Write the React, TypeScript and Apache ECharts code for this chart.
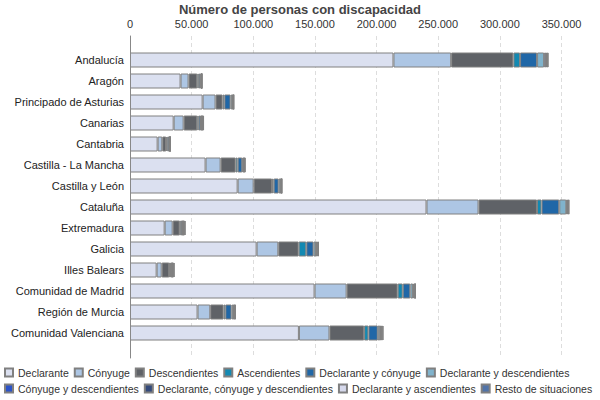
import React, { useEffect, useRef } from "react";
import * as echarts from "echarts";

const categories = [
  "Andalucía",
  "Aragón",
  "Principado de Asturias",
  "Canarias",
  "Cantabria",
  "Castilla - La Mancha",
  "Castilla y León",
  "Cataluña",
  "Extremadura",
  "Galicia",
  "Illes Balears",
  "Comunidad de Madrid",
  "Región de Murcia",
  "Comunidad Valenciana",
];

const seriesNames = [
  "Declarante",
  "Cónyuge",
  "Descendientes",
  "Ascendientes",
  "Declarante y cónyuge",
  "Declarante y descendientes",
  "Cónyuge y descendientes",
  "Declarante, cónyuge y descendientes",
  "Declarante y ascendientes",
  "Resto de situaciones",
];

const seriesColors = [
  "#dbe0f0",
  "#adc6e4",
  "#5f6267",
  "#1389b2",
  "#2067a7",
  "#80b3cc",
  "#2b53c8",
  "#344a7b",
  "#d6d9ec",
  "#5073a8",
];

const declarante = [213700, 41000, 58900, 35400, 22400, 61300, 87300, 240500, 28100, 102700, 21600, 149700, 54800, 137000];
const conyuge = [46800, 6500, 10500, 8100, 3800, 12200, 13000, 42200, 6500, 17600, 4100, 26000, 10300, 24800];
const descendientes = [50500, 7100, 5700, 11100, 3200, 12200, 14900, 47400, 5700, 16500, 6200, 41400, 10800, 28100];
const ascendientes = [5400, 1200, 1400, 1100, 800, 1600, 1300, 3700, 600, 6200, 600, 4100, 1400, 3500];
const declaranteConyuge = [13800, 1600, 5100, 1900, 1600, 3800, 4100, 14400, 1400, 5900, 1000, 6200, 5100, 7600];
const declaranteDescendientes = [5700, 400, 1400, 500, 300, 700, 1600, 5700, 500, 1900, 500, 2200, 1400, 1900];
const conyugeDescendientes = [1600, 200, 400, 300, 200, 400, 300, 600, 400, 500, 300, 1100, 500, 600];
const declaranteConyugeDescendientes = [700, 200, 400, 500, 200, 500, 300, 700, 500, 700, 500, 400, 500, 700];
const declaranteAscendientes = [500, 100, 300, 400, 200, 400, 300, 500, 600, 600, 600, 200, 400, 600];
const resto = [700, 200, 300, 700, 200, 600, 300, 600, 800, 600, 800, 200, 500, 800];

const seriesValues = [
  declarante,
  conyuge,
  descendientes,
  ascendientes,
  declaranteConyuge,
  declaranteDescendientes,
  conyugeDescendientes,
  declaranteConyugeDescendientes,
  declaranteAscendientes,
  resto,
];

const FONT = "'Liberation Sans', Arial, sans-serif";

function fmt(v: number) {
  return String(v).replace(/\B(?=(\d{3})+(?!\d))/g, ".");
}

export default function App() {
  const ref = useRef<HTMLDivElement>(null);
  useEffect(() => {
    if (!ref.current) return;
    document.body.style.margin = "0";
    const chart = echarts.init(ref.current, null, { renderer: "svg" });
    const option: any = {
      animation: false,
      backgroundColor: "#ffffff",
      textStyle: { fontFamily: FONT },
      title: {
        text: "Número de personas con discapacidad",
        left: "center",
        top: 0,
        padding: [2, 5, 0, 5],
        textStyle: { fontSize: 13, fontWeight: "bold", color: "#444444", fontFamily: FONT, lineHeight: 14 },
      },
      legend: {
        left: 4,
        right: 0,
        top: 367,
        icon: "rect",
        itemWidth: 8,
        itemHeight: 8,
        itemGap: 5,
        padding: 0,
        textStyle: { fontSize: 10.5, color: "#333333", fontFamily: FONT },
        data: seriesNames,
      },
      grid: [
        { left: 130, right: 38.5, top: 49.5, bottom: 56.5, containLabel: false },
        { left: 130, right: 38.5, top: 36, bottom: 42, containLabel: false },
      ],
      xAxis: [
        {
          gridIndex: 0,
          type: "value",
          min: 0,
          max: 350000,
          interval: 50000,
          show: false,
        },
        {
          gridIndex: 1,
          type: "value",
          position: "top",
          min: 0,
          max: 350000,
          interval: 50000,
          axisLine: { show: false },
          axisTick: { show: false },
          axisLabel: {
            fontSize: 11,
            color: "#333333",
            margin: 7,
            fontFamily: FONT,
            formatter: (v: number) => fmt(v),
          },
          splitLine: { show: true, lineStyle: { color: "#dddddd", type: [4, 3], width: 1 } },
        },
      ],
      yAxis: [
        {
          gridIndex: 0,
          type: "category",
          inverse: true,
          data: categories,
          axisLine: { show: false },
          axisTick: { show: false },
          axisLabel: { fontSize: 11, color: "#222222", margin: 6, fontFamily: FONT },
        },
        {
          gridIndex: 1,
          type: "category",
          data: [""],
          axisLine: { show: true, lineStyle: { color: "#888888", width: 1 } },
          axisTick: { show: false },
          axisLabel: { show: false },
          z: 5,
        },
      ],
      series: seriesNames.map((name, i) => ({
        name,
        type: "bar",
        stack: "total",
        xAxisIndex: 0,
        yAxisIndex: 0,
        barWidth: 15,
        clip: false,
        data: seriesValues[i],
        itemStyle: { color: seriesColors[i], borderColor: "#808080", borderWidth: 1 },
        emphasis: { disabled: true },
      })),
    };
    chart.setOption(option);
    return () => chart.dispose();
  }, []);
  return <div ref={ref} style={{ width: 600, height: 400 }} />;
}
